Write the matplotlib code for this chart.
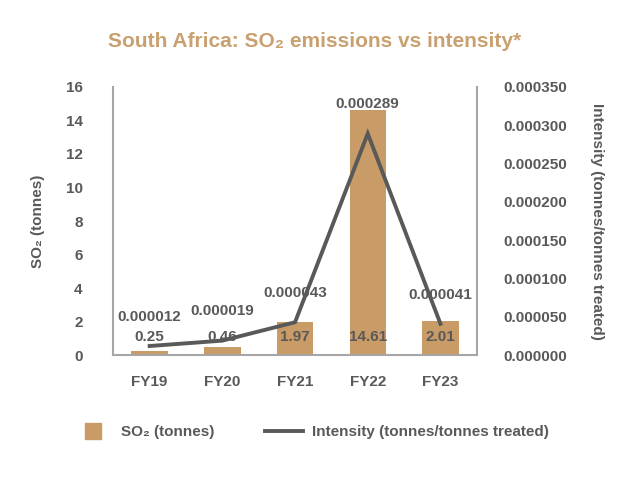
import matplotlib
matplotlib.use("Agg")
import matplotlib.pyplot as plt
from matplotlib.lines import Line2D

plt.rcParams['font.family'] = ['Liberation Sans', 'DejaVu Sans']
plt.rcParams['font.weight'] = 'bold'
plt.rcParams['axes.labelweight'] = 'bold'

categories = ["FY19", "FY20", "FY21", "FY22", "FY23"]
so2_tonnes = [0.25, 0.46, 1.97, 14.61, 2.01]
so2_labels = ["0.25", "0.46", "1.97", "14.61", "2.01"]
intensity = [0.000012, 0.000019, 0.000043, 0.000289, 0.000041]
intensity_labels = ["0.000012", "0.000019", "0.000043", "0.000289", "0.000041"]
left_ticks = [0, 2, 4, 6, 8, 10, 12, 14, 16]
right_ticks = [0.0, 0.00005, 0.0001, 0.00015, 0.0002, 0.00025, 0.0003, 0.00035]

BAR = "#C89B67"
TITLE = "#C9A06F"
TXT = "#595959"
SPINE = "#A6A6A6"

fig = plt.figure(figsize=(6.4, 4.8), dpi=100)
ax = fig.add_axes([0.177, 0.260, 0.568, 0.559])
ax2 = ax.twinx()

x = list(range(len(categories)))
ax.bar(x, so2_tonnes, width=0.5, color=BAR, zorder=2)
ax.set_ylim(0, 16)
ax.set_xlim(-0.5, 4.5)
ax.set_yticks(left_ticks)
ax.set_xticks(x)
ax.set_xticklabels(categories)

ax2.plot(x, intensity, color=TXT, lw=2.8, zorder=3, solid_joinstyle='miter')
ax2.set_ylim(0, 0.00035)
ax2.set_yticks(right_ticks)
ax2.set_yticklabels([f"{v:.6f}" for v in right_ticks])

for a in (ax, ax2):
    a.tick_params(length=0, labelsize=11, colors=TXT)
    for s in a.spines.values():
        s.set_visible(False)
ax.tick_params(axis='y', pad=22)
ax.tick_params(axis='x', pad=14)
ax2.tick_params(axis='y', pad=19)
ax.spines['left'].set_visible(True)
ax.spines['bottom'].set_visible(True)
ax2.spines['right'].set_visible(True)
for s in (ax.spines['left'], ax.spines['bottom'], ax2.spines['right']):
    s.set_color(SPINE)
    s.set_linewidth(1.5)

ax.set_ylabel("SO\u2082 (tonnes)", fontsize=11, color=TXT, fontweight='bold')
ax.yaxis.set_label_coords(-0.187, 0.5)
ax2.set_ylabel("Intensity (tonnes/tonnes treated)", fontsize=11, color=TXT,
               rotation=-90, va='center', fontweight='bold')
ax2.yaxis.set_label_coords(1.33, 0.5)

for xi, lab in zip(x, so2_labels):
    ax.annotate(lab, (xi, 0), xytext=(0, 13), textcoords='offset points',
                ha='center', va='center', fontsize=11, color=TXT, zorder=4)
for xi, v, lab in zip(x, intensity, intensity_labels):
    ax2.annotate(lab, (xi, v), xytext=(0, 21), textcoords='offset points',
                 ha='center', va='center', fontsize=11, color=TXT, zorder=4)

fig.text(0.492, 0.914, "South Africa: SO\u2082 emissions vs intensity*",
         ha='center', va='center', fontsize=15, color=TITLE, fontweight='bold')

handles = [Line2D([], [], marker='s', ls='none', markersize=11, color=BAR),
           Line2D([], [], color=TXT, lw=2.8)]
leg = fig.legend(handles, ["SO\u2082 (tonnes)", "Intensity (tonnes/tonnes treated)"],
                 loc='center', bbox_to_anchor=(0.487, 0.1), ncol=2, frameon=False,
                 fontsize=11, handlelength=2.5, handletextpad=0.6,
                 columnspacing=3.3)
for t in leg.get_texts():
    t.set_color(TXT)

fig.savefig("out.png", dpi=100)
